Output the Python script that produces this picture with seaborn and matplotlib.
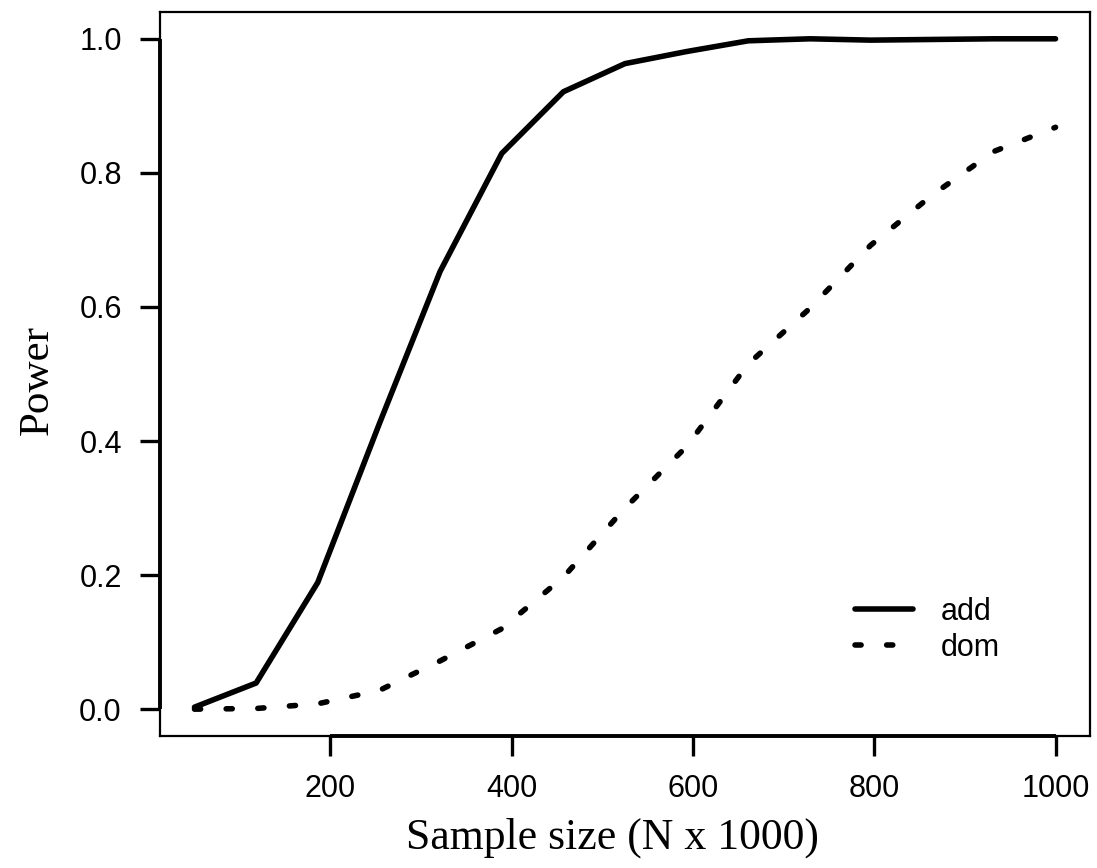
import numpy as np
import pandas as pd
import seaborn as sns
import matplotlib.pyplot as plt

# Power curves (sample size in thousands)
sample_size = [50, 118, 186, 254, 321, 389, 457, 525, 593, 661, 729, 796, 864, 932, 1000]
power_add = [0.003, 0.039, 0.189, 0.426, 0.653, 0.829, 0.921, 0.963, 0.981, 0.997,
             1.000, 0.998, 0.999, 1.000, 1.000]
power_dom = [0.000, 0.001, 0.008, 0.028, 0.072, 0.120, 0.197, 0.300, 0.392, 0.515,
             0.598, 0.692, 0.767, 0.832, 0.868]
x_ticks = np.array([200, 400, 600, 800, 1000])
y_ticks = np.array([0.0, 0.2, 0.4, 0.6, 0.8, 1.0])

sns.set_theme(style="white")
plt.rcParams["font.family"] = ["Liberation Sans", "DejaVu Sans"]
plt.rcParams["text.color"] = "black"
plt.rcParams["axes.labelcolor"] = "black"

df = pd.DataFrame({"Sample_Size": sample_size, "add": power_add, "dom": power_dom})

fig = plt.figure(figsize=(10.97, 8.68), dpi=100)
ax = fig.add_axes([0.1459, 0.1521, 0.8477, 0.8341])

sns.lineplot(data=df, x="Sample_Size", y="add", color="black", linewidth=4.0,
             solid_capstyle="round", label="add", ax=ax)
sns.lineplot(data=df, x="Sample_Size", y="dom", color="black", linewidth=4.0,
             linestyle=(0, (1.1, 4.6)), dash_capstyle="round", label="dom", ax=ax)

ax.set_xlim(12, 1038)
ax.set_ylim(-0.04, 1.04)
ax.set_xticks(x_ticks)
ax.set_yticks(y_ticks)
ax.set_xticklabels([str(v) for v in x_ticks])
ax.set_yticklabels([f"{v:.1f}" for v in y_ticks])
ax.tick_params(axis="both", direction="out", length=14.5, width=2.4, color="black",
               labelcolor="black", labelsize=22, pad=13, bottom=True, left=True)

for sp in ax.spines.values():
    sp.set_visible(True)
    sp.set_color("black")
    sp.set_linewidth(1.6)

# R-style axis lines spanning first to last tick
ax.plot(x_ticks[[0, -1]], [0, 0], transform=ax.get_xaxis_transform(), color="black",
        lw=2.8, clip_on=False, solid_capstyle="butt", zorder=3)
ax.plot([0, 0], y_ticks[[0, -1]], transform=ax.get_yaxis_transform(), color="black",
        lw=2.8, clip_on=False, solid_capstyle="butt", zorder=3)

ax.set_xlabel("Sample size (N x 1000)", fontsize=31.5, family="Liberation Serif")
ax.set_ylabel("Power", fontsize=31, family="Liberation Serif")
ax.xaxis.set_label_coords(0.486, -0.113)
ax.yaxis.set_label_coords(-0.111, 0.492)

ax.legend(loc="upper left", bbox_to_anchor=(0.747, 0.192), frameon=False, fontsize=22,
          handlelength=1.9, handletextpad=0.9, labelspacing=0.2, borderpad=0,
          borderaxespad=0)

plt.savefig("out.png", dpi=100)
